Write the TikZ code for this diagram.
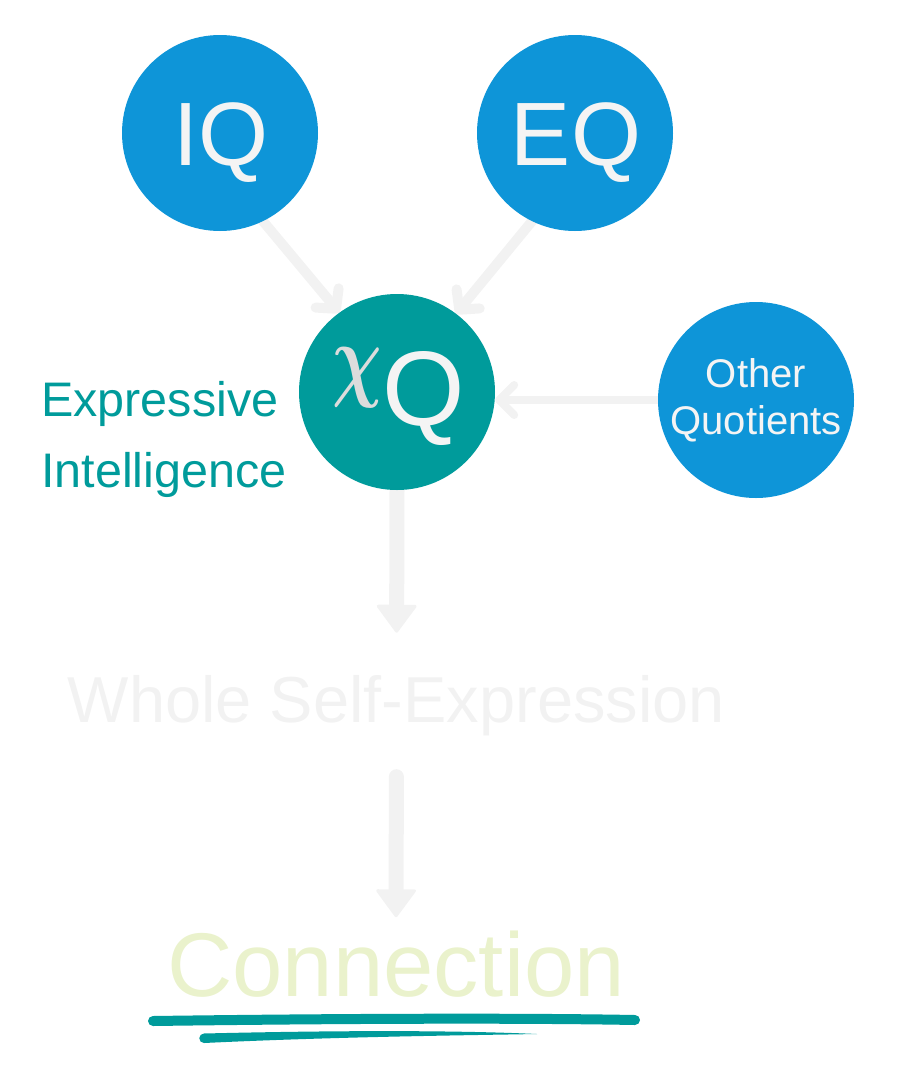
\documentclass[tikz,border=0pt]{standalone}
\usepackage{amsmath}
\usepackage{fontspec}
\setmainfont{Liberation Sans}
\usetikzlibrary{arrows.meta}
\pgfdeclarelayer{bg}
\pgfsetlayers{bg,main}
\definecolor{qblue}{HTML}{0E95D8}
\definecolor{qteal}{HTML}{009B9B}
\definecolor{arrowgray}{HTML}{F2F2F2}
\definecolor{qwhite}{HTML}{F4F4F4}
\definecolor{conngreen}{HTML}{EAF2CC}
\definecolor{chigray}{HTML}{DCDCDC}
\begin{document}
\begin{tikzpicture}[x=1pt,y=-1pt,
  quotcircle/.style={circle, fill=qblue, minimum size=196pt, inner sep=0pt},
  chicircle/.style={circle, fill=qteal, minimum size=196pt, inner sep=0pt},
  qtext/.style={text=qwhite, inner sep=0pt, anchor=base},
  thinarrow/.style={draw=arrowgray, line width=10pt, line cap=round,
    -{Straight Barb[round, length=14pt, width=30pt]}},
  sidearrow/.style={draw=arrowgray, line width=8pt, line cap=round,
    -{Straight Barb[round, length=15pt, width=30pt]}},
  downarrow/.style={draw=arrowgray, line width=15pt,
    -{Triangle[length=29pt, width=42pt, line width=3pt, round]}},
  underline/.style={fill=qteal}
]
\useasboundingbox (0,0) rectangle (901,1069);

% circles
\node[quotcircle] (iq) at (220,133) {};
\node[quotcircle] (eq) at (575,133) {};
\node[chicircle] (chi) at (397,392) {};
\node[quotcircle] (other) at (756,400) {};

% circle labels
\node[qtext, font=\fontsize{90}{96}\selectfont] (iqlabel) at (221,165) {IQ};
\node[qtext, font=\fontsize{90}{96}\selectfont] (eqlabel) at (576,165) {EQ};
\node[text=chigray, inner sep=0pt, xscale=6.9, yscale=9.4] (chisym) at (357,377.5) {$\boldsymbol{\chi}$};
\node[qtext, font=\fontsize{106}{110}\selectfont] (chiq) at (424,425) {Q};
\node[qtext, font=\fontsize{40}{46}\selectfont] (otherl1) at (756,387) {Other};
\node[qtext, font=\fontsize{40}{46}\selectfont] (otherl2) at (756,434) {Quotients};

% side label
\node[text=qteal, inner sep=0pt, anchor=base west, font=\fontsize{48.5}{55}\selectfont] (expr) at (41,416) {Expressive};
\node[text=qteal, inner sep=0pt, anchor=base west, font=\fontsize{48.5}{55}\selectfont] (intel) at (41,487) {Intelligence};

% lower texts
\node[text=arrowgray, inner sep=0pt, anchor=base, font=\fontsize{65}{70}\selectfont] (wse) at (396.5,722) {Whole Self-Expression};
\node[text=conngreen, inner sep=0pt, anchor=base, font=\fontsize{90.5}{96}\selectfont] (conn) at (396,996) {Connection};

% connectors (behind the circles)
\begin{pgfonlayer}{bg}
\draw[thinarrow] (iq.-64) -- (chi.126);
\draw[thinarrow] (eq.-116) -- (chi.53);
\draw[sidearrow] (other.west) -- (other.west -| chi.east);
\draw[downarrow, shorten >=42pt] (chi.south) -- (wse.north);
\draw[downarrow, line cap=round, shorten <=41pt, shorten >=13pt] (wse.south) -- (conn.north);
\end{pgfonlayer}

% brush underlines
\draw[qteal, line width=10pt, line cap=round] (153,1021) .. controls (300,1019) and (500,1017.5) .. (635,1020);
\fill[underline] (204,1033.5) .. controls (330,1030.5) and (450,1030) .. (537,1034)
  .. controls (450,1035.5) and (330,1037) .. (204,1043) -- cycle;
\fill[underline] (204,1038.25) circle[radius=4.75];
\end{tikzpicture}
\end{document}
